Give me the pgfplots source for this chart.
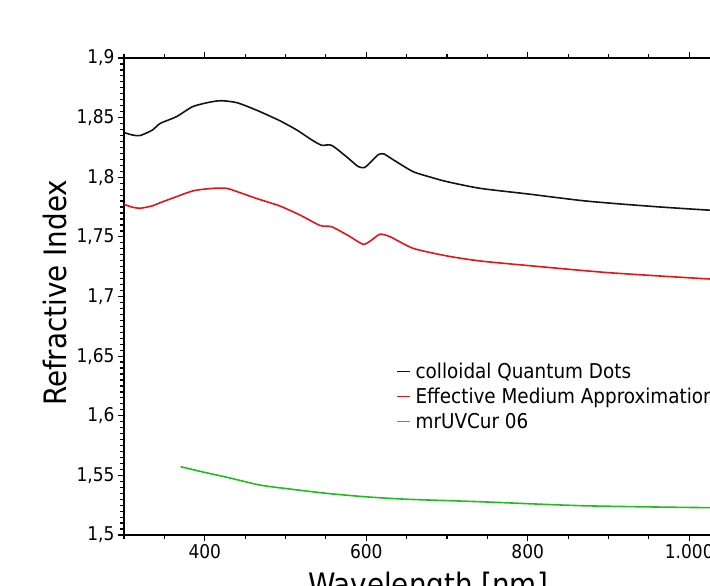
\documentclass[border=0pt]{standalone}
\usepackage{fontspec}
\setmainfont{DejaVu Sans Condensed}
\usepackage{pgfplots}
\pgfplotsset{compat=1.18}
\definecolor{cqd}{RGB}{20,20,20}
\definecolor{ema}{RGB}{230,20,20}
\definecolor{uvc}{RGB}{30,190,30}
\begin{document}
\begin{tikzpicture}
\begin{axis}[
  scale only axis,
  width=646bp, height=477bp,
  xmin=300, xmax=1100, ymin=1.5, ymax=1.9,
  axis x line*=box, axis y line*=box,
  axis line style={line width=1.8bp},
  tick align=outside,
  tick style={black, line width=1.2bp},
  major tick length=6bp, minor tick length=3.5bp,
  xtick={200,400,600,800,1000,1200},
  xticklabels={200,400,600,800,{1.000},{1.200}},
  minor x tick num=3,
  ytick={1.5,1.55,1.6,1.65,1.7,1.75,1.8,1.85,1.9},
  yticklabels={{1,5},{1,55},{1,6},{1,65},{1,7},{1,75},{1,8},{1,85},{1,9}},
  minor y tick num=9,
  ticklabel style={font=\fontsize{19}{22}\selectfont},
  xlabel={Wavelength [nm]},
  ylabel={Refractive Index},
  label style={font=\fontsize{31}{36}\selectfont},
  xlabel style={at={(axis description cs:0.4706,0)}, anchor=north, yshift=-34bp},
  ylabel style={at={(axis description cs:-0.1068,0.5075)}, anchor=center},
  legend cell align=left,
  legend style={draw=none, fill=none, at={(rel axis cs:0.4210,0.3650)}, anchor=north west,
    font=\fontsize{20.5}{24}\selectfont, row sep=4bp, inner sep=0pt},
  legend image code/.code={\draw[#1, line width=1.3bp] (0bp,0bp) -- (13bp,0bp); \path (16bp,0bp);},
]
\addplot[cqd, line width=1.6bp, smooth, tension=0.4] coordinates {
(300,1.8375) (310,1.8355) (320,1.8350) (335,1.8395) (345,1.8452) (365,1.8508)
(385,1.8592) (405,1.8628) (420,1.8642) (440,1.8625) (465,1.8560) (493,1.8474)
(514,1.8396) (534,1.8307) (545,1.8268) (557,1.8268) (575,1.8175) (590,1.8090)
(598,1.8082) (606,1.8130) (615,1.8190) (622,1.8195) (635,1.8140) (658,1.8047)
(680,1.8000) (700,1.7963) (741,1.7907) (800,1.7860) (873,1.7800) (955,1.7755)
(1030,1.7722) (1100,1.7700)
};
\addlegendentry{colloidal Quantum Dots}
\addplot[ema, line width=1.6bp, smooth, tension=0.4] coordinates {
(300,1.7773) (310,1.7750) (320,1.7740) (335,1.7760) (345,1.7787) (365,1.7837)
(386,1.7887) (410,1.7907) (427,1.7907) (444,1.7870) (465,1.7820) (493,1.7759)
(518,1.7683) (543,1.7595) (557,1.7585) (578,1.7510) (596,1.7438) (606,1.7470)
(617,1.7522) (630,1.7500) (658,1.7404) (700,1.7340) (741,1.7298) (803,1.7258)
(900,1.7200) (1030,1.7145) (1100,1.7125)
};
\addlegendentry{Effective Medium Approximation}
\addplot[uvc, line width=1.6bp, smooth, tension=0.4] coordinates {
(370,1.5573) (400,1.5525) (430,1.5480) (468,1.5419) (500,1.5390) (550,1.5350)
(600,1.5320) (650,1.5300) (741,1.5279) (865,1.5246) (988,1.5232) (1100,1.5225)
};
\addlegendentry{mrUVCur 06}
\end{axis}
\pgfresetboundingbox
\useasboundingbox (-124bp,-51bp) rectangle (586bp,535bp);
\end{tikzpicture}
\end{document}
